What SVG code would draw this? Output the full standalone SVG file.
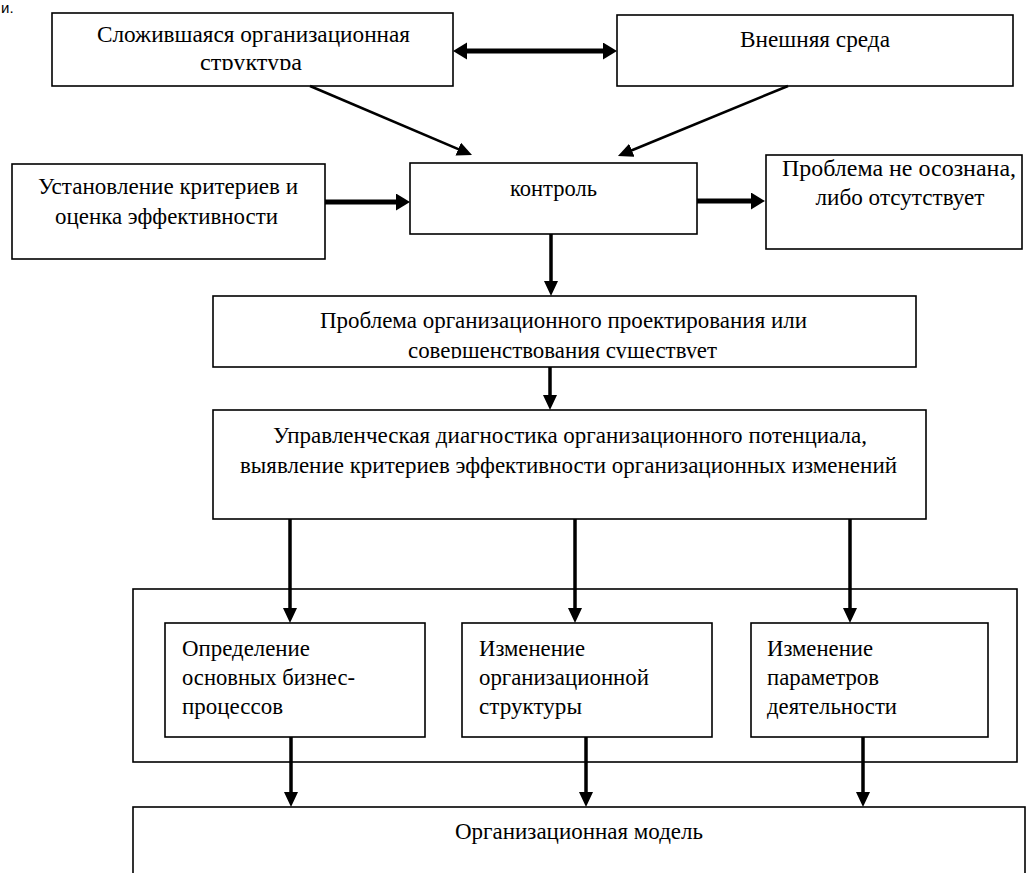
<svg xmlns="http://www.w3.org/2000/svg" width="1026" height="873" viewBox="0 0 1026 873">
  <style>
    .box { fill: #fff; stroke: #000; stroke-width: 1.6; }
    .t { font-family: "Liberation Serif", "Times New Roman", serif; font-size: 23px; fill: #000; }
    .c { text-anchor: middle; }
    .ln { stroke: #000; fill: none; }
    .thick { stroke-width: 5; }
    .mid { stroke-width: 3.5; }
    .thin { stroke-width: 2.6; }
  </style>
  <defs>
    <marker id="ah" markerUnits="userSpaceOnUse" markerWidth="16" markerHeight="16" refX="9" refY="7" orient="auto-start-reverse">
      <path d="M0,0 L15,7 L0,14 Z" fill="#000"/>
    </marker>
    <marker id="ahb" markerUnits="userSpaceOnUse" markerWidth="18" markerHeight="18" refX="8" refY="8.5" orient="auto-start-reverse">
      <path d="M0,0 L14,8.5 L0,17 Z" fill="#000"/>
    </marker>
    <clipPath id="clip1"><rect x="52" y="48" width="401" height="22"/></clipPath>
    <clipPath id="clip2"><rect x="213" y="335" width="703" height="23.5"/></clipPath>
  </defs>
  <rect width="1026" height="873" fill="#fff"/>
  <text x="1" y="13" style="font-family:'Liberation Sans',Arial,sans-serif;font-size:15px;fill:#000">и.</text>

  <g id="n-struct">
    <rect class="box" x="52" y="13" width="401" height="73"/>
    <text class="t c" x="253.5" y="42" textLength="313" lengthAdjust="spacingAndGlyphs">Сложившаяся организационная</text>
    <text class="t c" x="251" y="70" textLength="102" lengthAdjust="spacingAndGlyphs" clip-path="url(#clip1)">структура</text>
  </g>
  <g id="n-env">
    <rect class="box" x="617" y="15" width="396" height="71"/>
    <text class="t c" x="815" y="47" textLength="150" lengthAdjust="spacingAndGlyphs">Внешняя среда</text>
  </g>
  <g id="n-criteria">
    <rect class="box" x="12" y="164" width="313" height="95"/>
    <text class="t c" x="168" y="194" textLength="260" lengthAdjust="spacingAndGlyphs">Установление критериев и</text>
    <text class="t c" x="166.5" y="224" textLength="223" lengthAdjust="spacingAndGlyphs">оценка эффективности</text>
  </g>
  <g id="n-control">
    <rect class="box" x="410" y="163" width="287" height="71"/>
    <text class="t c" x="553.5" y="196" textLength="87" lengthAdjust="spacingAndGlyphs">контроль</text>
  </g>
  <g id="n-noproblem">
    <rect class="box" x="766" y="155" width="256" height="94"/>
    <text class="t c" x="899" y="176" textLength="234" lengthAdjust="spacingAndGlyphs">Проблема не осознана,</text>
    <text class="t c" x="900" y="205" textLength="169" lengthAdjust="spacingAndGlyphs">либо отсутствует</text>
  </g>
  <g id="n-problem">
    <rect class="box" x="213" y="296" width="703" height="71"/>
    <text class="t c" x="563.5" y="328" textLength="487" lengthAdjust="spacingAndGlyphs">Проблема организационного проектирования или</text>
    <text class="t c" x="562.5" y="358" textLength="309" lengthAdjust="spacingAndGlyphs" clip-path="url(#clip2)">совершенствования существует</text>
  </g>
  <g id="n-diagnostics">
    <rect class="box" x="213" y="410" width="713" height="109"/>
    <text class="t c" x="570" y="443" textLength="594" lengthAdjust="spacingAndGlyphs">Управленческая диагностика организационного потенциала,</text>
    <text class="t c" x="568.5" y="473" textLength="657" lengthAdjust="spacingAndGlyphs">выявление критериев эффективности организационных изменений</text>
  </g>
  <g id="n-container">
    <rect class="box" x="133" y="589" width="884" height="173"/>
  </g>
  <g id="n-business">
    <rect class="box" x="165" y="623" width="260" height="114"/>
    <text class="t" x="182" y="656" textLength="128" lengthAdjust="spacingAndGlyphs">Определение</text>
    <text class="t" x="182" y="685" textLength="173" lengthAdjust="spacingAndGlyphs">основных бизнес-</text>
    <text class="t" x="182" y="714" textLength="101" lengthAdjust="spacingAndGlyphs">процессов</text>
  </g>
  <g id="n-orgstruct">
    <rect class="box" x="462" y="623" width="250" height="114"/>
    <text class="t" x="479" y="656" textLength="106" lengthAdjust="spacingAndGlyphs">Изменение</text>
    <text class="t" x="479" y="685" textLength="170" lengthAdjust="spacingAndGlyphs">организационной</text>
    <text class="t" x="479" y="714" textLength="103" lengthAdjust="spacingAndGlyphs">структуры</text>
  </g>
  <g id="n-params">
    <rect class="box" x="751" y="623" width="237" height="114"/>
    <text class="t" x="767" y="656" textLength="106" lengthAdjust="spacingAndGlyphs">Изменение</text>
    <text class="t" x="767" y="685" textLength="112" lengthAdjust="spacingAndGlyphs">параметров</text>
    <text class="t" x="767" y="714" textLength="130" lengthAdjust="spacingAndGlyphs">деятельности</text>
  </g>
  <g id="n-model">
    <rect class="box" x="133" y="807" width="892" height="80"/>
    <text class="t c" x="579" y="839" textLength="248" lengthAdjust="spacingAndGlyphs">Организационная модель</text>
  </g>

  <g id="connectors">
    <line class="ln thick" x1="459" y1="51" x2="611" y2="51" marker-start="url(#ahb)" marker-end="url(#ahb)"/>
    <line class="ln thin" x1="310" y1="86" x2="466.5" y2="152.6" marker-end="url(#ah)"/>
    <line class="ln thin" x1="788" y1="86" x2="623.5" y2="153.7" marker-end="url(#ah)"/>
    <line class="ln thick" x1="325" y1="202" x2="404" y2="202" marker-end="url(#ahb)"/>
    <line class="ln thick" x1="697" y1="201" x2="759" y2="201" marker-end="url(#ahb)"/>
    <line class="ln mid" x1="551" y1="234" x2="551" y2="290" marker-end="url(#ah)"/>
    <line class="ln mid" x1="550" y1="367" x2="550" y2="404" marker-end="url(#ah)"/>
    <line class="ln mid" x1="290" y1="519" x2="290" y2="617" marker-end="url(#ah)"/>
    <line class="ln mid" x1="575" y1="519" x2="575" y2="617" marker-end="url(#ah)"/>
    <line class="ln mid" x1="850" y1="519" x2="850" y2="617" marker-end="url(#ah)"/>
    <line class="ln mid" x1="291" y1="737" x2="291" y2="801" marker-end="url(#ah)"/>
    <line class="ln mid" x1="586" y1="737" x2="586" y2="801" marker-end="url(#ah)"/>
    <line class="ln mid" x1="863" y1="737" x2="863" y2="801" marker-end="url(#ah)"/>
  </g>
</svg>
